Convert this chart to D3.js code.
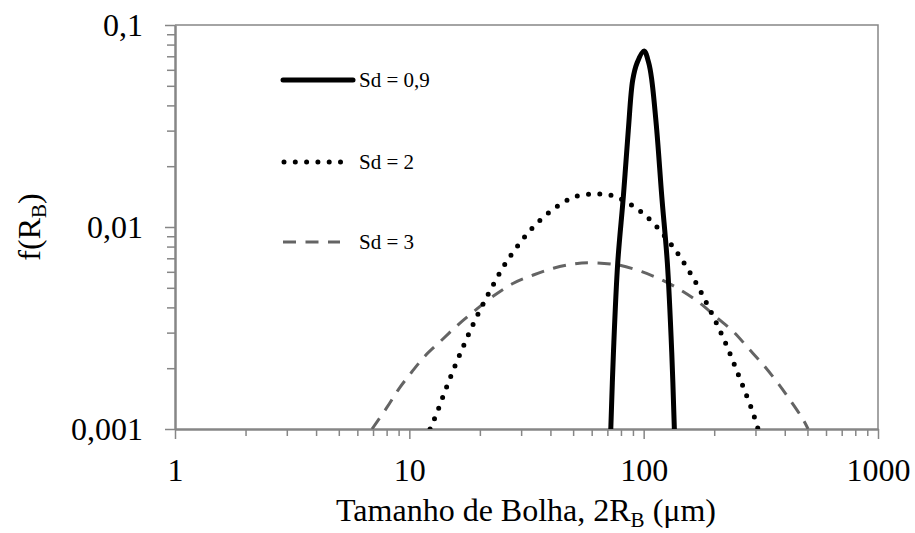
<!DOCTYPE html>
<html>
<head>
<meta charset="utf-8">
<script src="https://cdn.jsdelivr.net/npm/d3@7"></script>
<style>
  body { margin: 0; background: #fff; }
  text { font-family: "Liberation Serif", "Times New Roman", serif; fill: #000; }
</style>
</head>
<body>
<svg id="chart" width="915" height="533"></svg>
<script>
// Bubble size distribution, log-log axes
const xTicks = [1, 10, 100, 1000];
const xTickLabels = ["1", "10", "100", "1000"];
const yTicks = [0.001, 0.01, 0.1];
const yTickLabels = ["0,001", "0,01", "0,1"];
const seriesNames = ["Sd = 0,9", "Sd = 2", "Sd = 3"];

// Sd = 0,9
const sd09Size = [72.4, 74.3, 77.5, 81.9, 86.0, 89.8, 93.7, 100.4, 105.1, 108.3, 113.7, 119.5, 126.2, 131.8, 135.2];
const sd09Freq = [0.001, 0.00238, 0.00664, 0.01413, 0.0302, 0.0534, 0.0649, 0.0743, 0.0649, 0.0534, 0.0302, 0.01413, 0.00664, 0.00238, 0.001];

// Sd = 2
const sd2Size = [12.26, 13.17, 14.24, 15.47, 16.90, 18.52, 20.43, 22.70, 25.36, 28.83, 33.30, 39.20, 47.25, 52.48, 62.0, 73.5, 89.8, 107.5, 133.5, 151.7, 170.2, 188.9, 208.4, 228.5, 248.7, 270.1, 292.2, 307.8];
const sd2Freq = [0.001, 0.001218, 0.001554, 0.001982, 0.002527, 0.003209, 0.004062, 0.005122, 0.006433, 0.007989, 0.009808, 0.01173, 0.01361, 0.01429, 0.01457, 0.01429, 0.01275, 0.01074, 0.007962, 0.006389, 0.005104, 0.00403, 0.003188, 0.002509, 0.001966, 0.001542, 0.00121, 0.001];

// Sd = 3
const sd3Size = [6.93, 8.01, 9.04, 10.24, 11.67, 13.52, 15.94, 18.76, 22.83, 27.79, 33.82, 41.17, 50.12, 59.04, 78.0, 98.2, 121.4, 147.7, 174.1, 205.1, 241.5, 279.9, 324.3, 369.9, 421.4, 480.3, 503];
const sd3Freq = [0.001, 0.001275, 0.001585, 0.001914, 0.002300, 0.002705, 0.003240, 0.00380, 0.004550, 0.005264, 0.005786, 0.006245, 0.006557, 0.006656, 0.006484, 0.006008, 0.005422, 0.004783, 0.004192, 0.003565, 0.003032, 0.002509, 0.002074, 0.001714, 0.001391, 0.001108, 0.001];

const svg = d3.select("#chart");
const axisColor = "#868686";
const plot = { left: 175, right: 878, top: 25, bottom: 429 };

const x = d3.scaleLog().domain([1, 1000]).range([plot.left, plot.right]);
const y = d3.scaleLog().domain([0.001, 0.1]).range([plot.bottom, plot.top]);

// plot-area frame (top and right edges)
svg.append("path")
  .attr("d", `M${plot.left},${plot.top}H${plot.right}V${plot.bottom}`)
  .attr("fill", "none").attr("stroke", axisColor).attr("stroke-width", 1.5);

// minor ticks
const xMinor = x.ticks().filter(v => !xTicks.includes(v));
const yMinor = y.ticks().filter(v => !yTicks.some(t => Math.abs(t - v) < 1e-12));

function styleAxis(g) {
  g.select(".domain").attr("stroke", axisColor).attr("stroke-width", 2);
  g.selectAll(".tick line").attr("stroke", axisColor).attr("stroke-width", 1.5);
}

svg.append("g").attr("transform", `translate(0,${plot.bottom})`)
  .call(d3.axisBottom(x).tickValues(xMinor).tickSize(7).tickFormat("").tickSizeOuter(0))
  .call(styleAxis);
svg.append("g").attr("transform", `translate(${plot.left},0)`)
  .call(d3.axisLeft(y).tickValues(yMinor).tickSize(8).tickFormat("").tickSizeOuter(0))
  .call(styleAxis);

const xAxis = svg.append("g").attr("transform", `translate(0,${plot.bottom})`)
  .call(d3.axisBottom(x).tickValues(xTicks).tickSize(10).tickPadding(19).tickSizeOuter(0)
    .tickFormat((d, i) => xTickLabels[i]))
  .call(styleAxis);
xAxis.selectAll(".tick text").attr("font-size", 32).attr("font-family", "Liberation Serif").attr("fill", "#000");

const yAxis = svg.append("g").attr("transform", `translate(${plot.left},0)`)
  .call(d3.axisLeft(y).tickValues(yTicks).tickSize(10).tickPadding(22).tickSizeOuter(0)
    .tickFormat((d, i) => yTickLabels[i]))
  .call(styleAxis);
yAxis.selectAll(".tick text").attr("font-size", 32).attr("font-family", "Liberation Serif").attr("fill", "#000");

// axis titles
const xt = svg.append("text").attr("x", 526).attr("y", 521)
  .attr("text-anchor", "middle").attr("font-size", 32);
xt.append("tspan").text("Tamanho de Bolha, 2R");
xt.append("tspan").attr("font-size", 21).attr("dy", 6).text("B");
xt.append("tspan").attr("dy", -6).text(" (μm)");

const yt = svg.append("text").attr("transform", "translate(40,227) rotate(-90)")
  .attr("text-anchor", "middle").attr("font-size", 32);
yt.append("tspan").text("f(R");
yt.append("tspan").attr("font-size", 21).attr("dy", 6).text("B");
yt.append("tspan").attr("dy", -6).text(")");

// series
const styles = [
  { color: "#000", width: 5, dash: null, cap: "butt" },
  { color: "#000", width: 5, dash: "0 11.3", cap: "round" },
  { color: "#646464", width: 3, dash: "13 9.5", cap: "butt" }
];
const series = [
  sd09Size.map((s, i) => [s, sd09Freq[i]]),
  sd2Size.map((s, i) => [s, sd2Freq[i]]),
  sd3Size.map((s, i) => [s, sd3Freq[i]])
];

svg.append("clipPath").attr("id", "plotClip").append("rect")
  .attr("x", plot.left).attr("y", plot.top - 10)
  .attr("width", plot.right - plot.left).attr("height", plot.bottom - plot.top + 10);

const line = d3.line().x(d => x(d[0])).y(d => y(d[1])).curve(d3.curveCatmullRom.alpha(0.5));

const drawOrder = [2, 1, 0];
drawOrder.forEach(k => {
  const st = styles[k];
  svg.append("path").datum(series[k])
    .attr("clip-path", "url(#plotClip)")
    .attr("d", line)
    .attr("fill", "none")
    .attr("stroke", st.color)
    .attr("stroke-width", st.width)
    .attr("stroke-linecap", st.cap)
    .attr("stroke-linejoin", "round")
    .attr("stroke-dasharray", st.dash);
});

// legend
const legendY = [80, 162, 242];
const legendX = [[283, 353], [284, 343], [283, 340]];
seriesNames.forEach((name, k) => {
  const st = styles[k];
  svg.append("line")
    .attr("x1", legendX[k][0]).attr("x2", legendX[k][1])
    .attr("y1", legendY[k]).attr("y2", legendY[k])
    .attr("stroke", st.color).attr("stroke-width", st.width)
    .attr("stroke-linecap", k === 0 ? "round" : st.cap)
    .attr("stroke-dasharray", st.dash);
  svg.append("text").attr("x", 359).attr("y", legendY[k]).attr("dy", "0.33em")
    .attr("font-size", 21).text(name);
});
</script>
</body>
</html>
